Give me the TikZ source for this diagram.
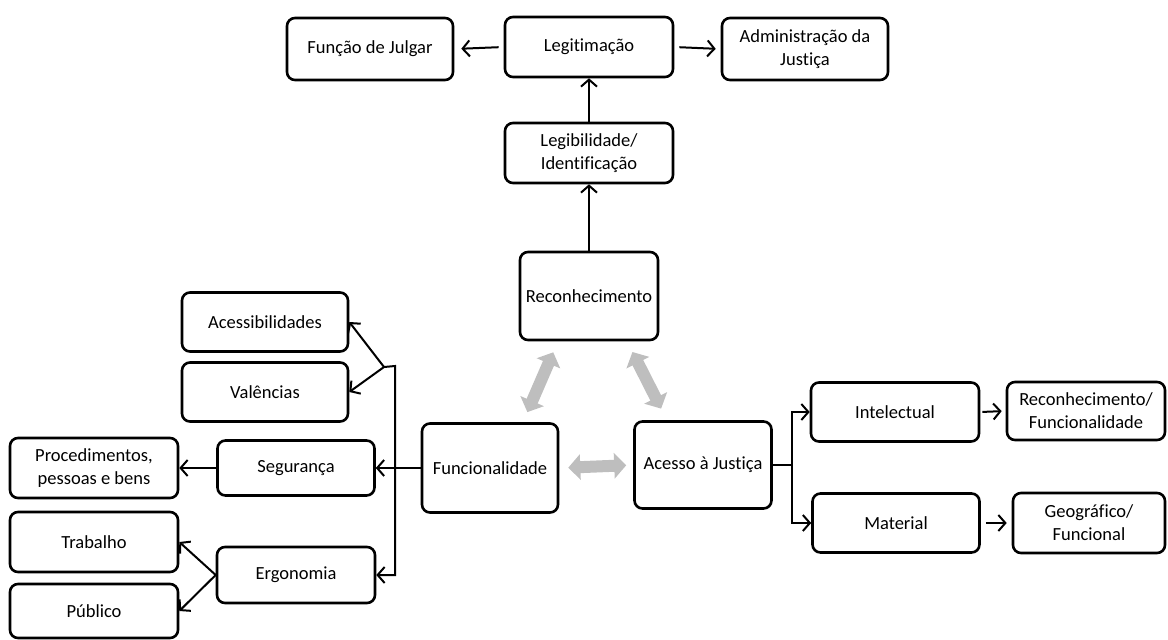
\documentclass[tikz,border=0pt]{standalone}
\usepackage{fontspec}
\setmainfont{Carlito}[Ligatures=NoCommon]
\usepackage{tikz}
\usetikzlibrary{arrows.meta, positioning}

\definecolor{fatgray}{RGB}{190,190,190}

\begin{document}
\begin{tikzpicture}[x=1pt, y=-1pt, >={Straight Barb[length=7pt,width=16pt,line width=2pt]},
	box/.style={draw, line width=2.6pt, rounded corners=8pt, align=center,
		inner sep=1pt, font=\fontsize{18.5}{23}\selectfont},
	link/.style={line width=2pt, ->},
	fat/.style={line width=12pt, fatgray,
		{Triangle[length=12pt,width=25pt]}-{Triangle[length=12pt,width=25pt]}}]
	
	\useasboundingbox (0,0) rectangle (1168,640);
	
	% Top row
	\node[box, minimum width=166pt, minimum height=62pt] (julgar) at (370,49) {Função de Julgar};
	\node[box, minimum width=168pt, minimum height=60pt] (legit) at (589,47) {Legitimação};
	\node[box, minimum width=166pt, minimum height=62pt] (admin) at (805,49) {Administração da\\Justiça};
	\node[box, minimum width=168pt, minimum height=60pt] (legib) at (589,153) {Legibilidade/\\Identificação};
	
	% Central triangle
	\node[box, minimum width=138pt, minimum height=88pt] (recon) at (589,296) {Reconhecimento};
	\node[box, minimum width=136pt, minimum height=89pt] (func) at (490,468) {Funcionalidade};
	\node[box, minimum width=137pt, minimum height=87pt] (acesso) at (703,465) {Acesso à Justiça};
	
	% Right branch
	\node[box, minimum width=168pt, minimum height=59pt] (intel) at (895,412) {Intelectual};
	\node[box, minimum width=167pt, minimum height=59pt] (material) at (896,523) {Material};
	\node[box, minimum width=158pt, minimum height=58pt] (recfunc) at (1086,411) {Reconhecimento/\\Funcionalidade};
	\node[box, minimum width=152pt, minimum height=60pt] (geo) at (1089,523) {Geográfico/\\Funcional};
	
	% Left branch
	\node[box, minimum width=166pt, minimum height=59pt] (acess) at (265,322) {Acessibilidades};
	\node[box, minimum width=166pt, minimum height=59pt] (valen) at (265,392) {Valências};
	\node[box, minimum width=157pt, minimum height=55pt] (seg) at (296,468) {Segurança};
	\node[box, minimum width=158pt, minimum height=56pt] (ergo) at (296,575) {Ergonomia};
	\node[box, minimum width=168pt, minimum height=60pt] (proc) at (94,468) {Procedimentos,\\pessoas e bens};
	\node[box, minimum width=168pt, minimum height=60pt] (trab) at (94,542) {Trabalho};
	\node[box, minimum width=168pt, minimum height=54pt] (publico) at (94,611) {Público};
	
	% Top arrows
	\draw[link, shorten <=5pt, shorten >=7pt] (legit.west) -- (julgar.east);
	\draw[link, shorten <=5pt, shorten >=5pt] (legit.east) -- (admin.west);
	\draw[link] (legib.north) -- (legit.south);
	\draw[link] (recon.north) -- (legib.south);
	
	% Grey two-way arrows
	\draw[fat, shorten <=11pt, shorten >=12pt] ([xshift=33pt]func.north) -- ([xshift=-31pt]recon.south);
	\draw[fat, shorten <=12pt, shorten >=13pt] ([xshift=38pt]recon.south) -- ([xshift=-36pt]acesso.north);
	\draw[fat, shorten <=9pt, shorten >=7pt] (func.east) -- (acesso.west);
	
	% Funcionalidade to the left
	\coordinate (jtop) at (384,367);
	\coordinate (jbus) at (395,366);
	\draw[link] (func.west) -- (seg.east);
	\draw[link] (jtop) -- (jbus) |- (ergo.east);
	\draw[link] (jtop) -- (acess.east);
	\draw[link] (jtop) -- (valen.east);
	\draw[link] (seg.west) -- (proc.east);
	\draw[link] (ergo.west) -- (trab.east);
	\draw[link] (ergo.west) -- (publico.east);
	
	% Acesso to the right
	\coordinate (jr) at (792,465);
	\draw[line width=2pt] (acesso.east) -- (jr);
	\draw[link] (jr) |- (intel.west);
	\draw[link] (jr) |- (material.west);
	\draw[link, shorten <=2pt, shorten >=4pt] (intel.east) -- (recfunc.west);
	\draw[link, shorten <=5pt, shorten >=5pt] (material.east) -- (geo.west);
	
\end{tikzpicture}
\end{document}
